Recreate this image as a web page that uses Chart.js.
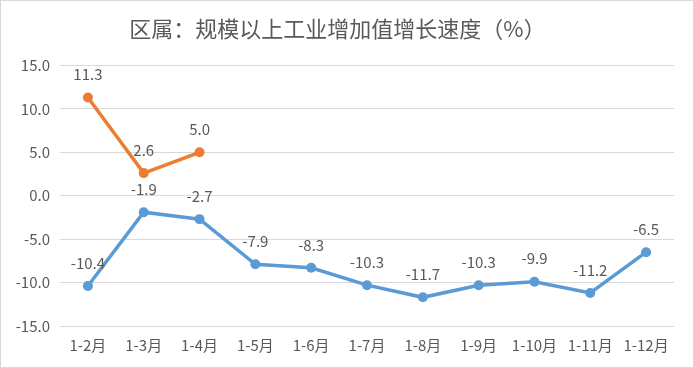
<!DOCTYPE html>
<html>
<head>
<meta charset="utf-8">
<script src="https://cdn.jsdelivr.net/npm/chart.js@4/dist/chart.umd.min.js"></script>
<style>
  html, body { margin: 0; padding: 0; background: #fff; }
  .wrap { position: relative; width: 692px; height: 366px; border: 1px solid #d9d9d9; }
</style>
</head>
<body>
<div class="wrap"><canvas id="growthChart"></canvas></div>
<script>
// Chart values
const months = ['1-2月', '1-3月', '1-4月', '1-5月', '1-6月', '1-7月', '1-8月', '1-9月', '1-10月', '1-11月', '1-12月'];
const blueSeries = [-10.4, -1.9, -2.7, -7.9, -8.3, -10.3, -11.7, -10.3, -9.9, -11.2, -6.5];
const orangeSeries = [11.3, 2.6, 5.0, null, null, null, null, null, null, null, null];
const yTicks = [-15, -10, -5, 0, 5, 10, 15];

const textColor = '#595959';
const gridColor = '#d9d9d9';
const fontFamily = '"Noto Sans CJK SC", "Noto Sans", sans-serif';

// Draws the value above each point
const pointLabels = {
  id: 'pointLabels',
  afterDatasetsDraw(chart) {
    const ctx = chart.ctx;
    ctx.save();
    ctx.fillStyle = textColor;
    ctx.font = '15px ' + fontFamily;
    ctx.textAlign = 'center';
    ctx.textBaseline = 'middle';
    chart.data.datasets.forEach((ds, i) => {
      const meta = chart.getDatasetMeta(i);
      meta.data.forEach((pt, j) => {
        const v = ds.data[j];
        if (v === null || v === undefined) return;
        ctx.fillText(v.toFixed(1), pt.x, pt.y - 23);
      });
    });
    ctx.restore();
  }
};

const ctx = document.getElementById('growthChart');
new Chart(ctx, {
  type: 'line',
  data: {
    labels: months,
    datasets: [
      {
        label: '区属',
        data: blueSeries,
        borderColor: '#5b9bd5',
        backgroundColor: '#5b9bd5',
        borderWidth: 3.5,
        pointRadius: 5,
        pointBorderWidth: 0,
        tension: 0
      },
      {
        label: '上年',
        data: orangeSeries,
        borderColor: '#ed7d31',
        backgroundColor: '#ed7d31',
        borderWidth: 3.5,
        pointRadius: 5,
        pointBorderWidth: 0,
        tension: 0,
        spanGaps: false
      }
    ]
  },
  options: {
    responsive: true,
    maintainAspectRatio: false,
    animation: false,
    layout: { padding: { left: 0, right: 19, top: 0, bottom: 0 } },
    plugins: {
      legend: { display: false },
      tooltip: { enabled: false },
      title: {
        display: true,
        text: '区属：规模以上工业增加值增长速度（%）',
        color: textColor,
        font: { family: fontFamily, size: 22, weight: 'normal' },
        padding: { top: 14, bottom: 24 }
      }
    },
    scales: {
      x: {
        offset: true,
        grid: { display: false },
        border: { display: false },
        ticks: {
          color: textColor,
          font: { family: fontFamily, size: 15 },
          padding: 2,
          maxRotation: 0,
          autoSkip: false
        },
        afterFit(scale) { scale.height = 41; }
      },
      y: {
        min: -15,
        max: 15,
        afterBuildTicks(scale) { scale.ticks = yTicks.map(v => ({ value: v })); },
        grid: { color: gridColor, drawTicks: false },
        border: { display: false },
        ticks: {
          color: textColor,
          font: { family: fontFamily, size: 15 },
          padding: 10,
          callback: v => Number(v).toFixed(1)
        },
        afterFit(scale) { scale.width = 59; }
      }
    }
  },
  plugins: [pointLabels]
});
</script>
</body>
</html>
